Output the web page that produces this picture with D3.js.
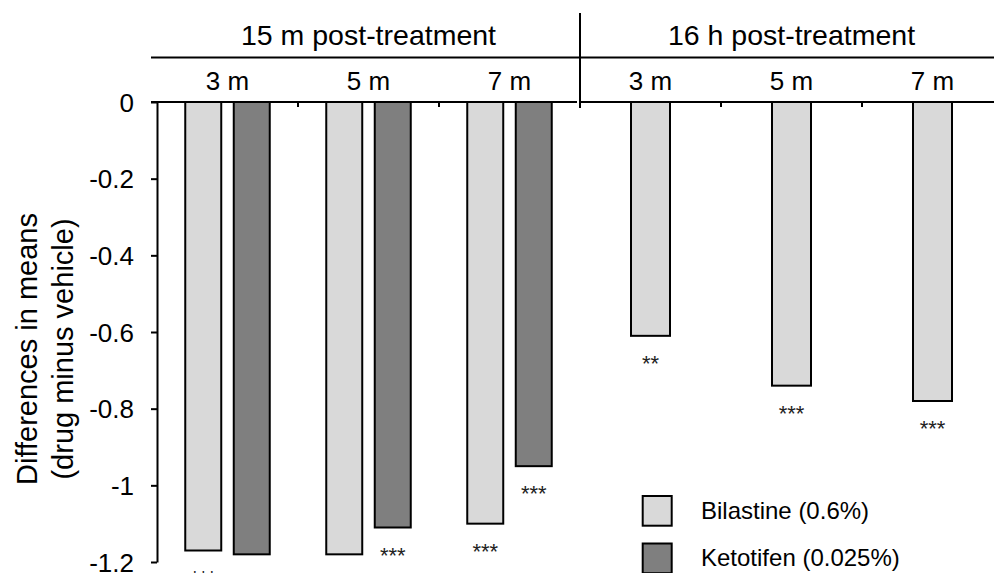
<!DOCTYPE html>
<html><head><meta charset="utf-8">
<script src="https://cdn.jsdelivr.net/npm/d3@7"></script>
<style>
body{margin:0;background:#fff;}
svg{display:block;font-family:"Liberation Sans",Arial,sans-serif;}
</style>
</head><body>
<svg id="c" width="994" height="573"></svg>
<script>
// ---- data ----
const periods = ["15 m post-treatment", "16 h post-treatment"];
const times = ["3 m", "5 m", "7 m"];
const seriesNames = ["Bilastine (0.6%)", "Ketotifen (0.025%)"];
const bilastine15m = [-1.17, -1.18, -1.10];
const ketotifen15m = [-1.18, -1.11, -0.95];
const bilastine16h = [-0.61, -0.74, -0.78];
const stars15mBil = ["***", "***", "***"];
const stars15mKet = ["***", "***", "***"];
const stars16hBil = ["**", "***", "***"];
const yTicks = [0, -0.2, -0.4, -0.6, -0.8, -1, -1.2];
const yTitle = ["Differences in means", "(drug minus vehicle)"];

const colors = {"Bilastine (0.6%)": "#d9d9d9", "Ketotifen (0.025%)": "#7f7f7f"};

// build records
const cats = [];
periods.forEach(p => times.forEach(t => cats.push(p + "|" + t)));
const bars = [];
times.forEach((t, i) => {
  bars.push({cat: periods[0] + "|" + t, period: 0, series: seriesNames[0], v: bilastine15m[i], star: stars15mBil[i]});
  bars.push({cat: periods[0] + "|" + t, period: 0, series: seriesNames[1], v: ketotifen15m[i], star: stars15mKet[i]});
  bars.push({cat: periods[1] + "|" + t, period: 1, series: seriesNames[0], v: bilastine16h[i], star: stars16hBil[i]});
});

const svg = d3.select("#c");
const left = 157, right = 1003, top0 = 102, bot = 562;

const y = d3.scaleLinear().domain([0, -1.2]).range([top0, bot]);
const xCat = d3.scaleBand().domain(cats).range([left, right]);
const xPer = d3.scaleBand().domain(periods).range([left, right]);
const xPair = d3.scaleBand().domain(seriesNames).range([-42.25, 42.25]).paddingInner(0.258).paddingOuter(0);
const xSingle = d3.scaleBand().domain([seriesNames[0]]).range([-19.5, 19.5]);

function barX(d) {
  const c = xCat(d.cat) + xCat.bandwidth() / 2;
  return d.period === 0 ? c + xPair(d.series) : c + xSingle(d.series);
}
function barW(d) { return d.period === 0 ? xPair.bandwidth() : xSingle.bandwidth(); }

// bars
svg.append("g").selectAll("rect").data(bars).join("rect")
  .attr("x", barX)
  .attr("y", y(0))
  .attr("width", barW)
  .attr("height", d => y(d.v) - y(0))
  .attr("fill", d => colors[d.series])
  .attr("stroke", "#000")
  .attr("stroke-width", 2);

// significance stars
svg.append("g").selectAll("text").data(bars).join("text")
  .attr("x", d => barX(d) + barW(d) / 2)
  .attr("y", d => y(d.v) + 35)
  .attr("text-anchor", "middle")
  .attr("font-size", 22)
  .attr("fill", "#222")
  .text(d => d.star);

// y axis
const yAxis = d3.axisLeft(y).tickValues(yTicks).tickSize(6).tickSizeOuter(0).tickFormat(d => String(d));
const gy = svg.append("g").attr("transform", `translate(${left},0)`).call(yAxis);
gy.select(".domain").attr("stroke-width", 2);
gy.selectAll(".tick line").attr("stroke-width", 2);
gy.selectAll(".tick text")
  .attr("font-size", 26)
  .attr("fill", "#000")
  .attr("font-family", "Liberation Sans, Arial, sans-serif")
  .attr("x", -23)
  .attr("dy", "0.35em");

// zero baseline segments
svg.append("line").attr("x1", left - 6).attr("x2", xPer(periods[1]) - 3)
  .attr("y1", y(0)).attr("y2", y(0)).attr("stroke", "#000").attr("stroke-width", 2);
svg.append("line").attr("x1", xPer(periods[1])).attr("x2", 994)
  .attr("y1", y(0)).attr("y2", y(0)).attr("stroke", "#000").attr("stroke-width", 2);

// category boundary ticks
const bounds = cats.slice(1).map(c => xCat(c)).filter(v => Math.abs(v - xPer(periods[1])) > 1);
svg.append("g").selectAll("line").data(bounds).join("line")
  .attr("x1", d => d).attr("x2", d => d)
  .attr("y1", y(0)).attr("y2", y(0) + 5)
  .attr("stroke", "#000").attr("stroke-width", 2);

// separator & header line
svg.append("line").attr("x1", xPer(periods[1])).attr("x2", xPer(periods[1]))
  .attr("y1", 13).attr("y2", 108).attr("stroke", "#000").attr("stroke-width", 2);
svg.append("line").attr("x1", left - 6).attr("x2", 994)
  .attr("y1", 57.5).attr("y2", 57.5).attr("stroke", "#000").attr("stroke-width", 2);

// period headers
svg.append("g").selectAll("text").data(periods).join("text")
  .attr("x", d => xPer(d) + xPer.bandwidth() / 2)
  .attr("y", 45)
  .attr("text-anchor", "middle")
  .attr("font-size", 28.5)
  .text(d => d);

// time labels
svg.append("g").selectAll("text").data(cats).join("text")
  .attr("x", d => xCat(d) + xCat.bandwidth() / 2)
  .attr("y", 90)
  .attr("text-anchor", "middle")
  .attr("font-size", 26)
  .text(d => d.split("|")[1]);

// y title
svg.append("g").selectAll("text").data(yTitle).join("text")
  .attr("transform", (d, i) => `translate(${37 + i * 36},349) rotate(-90)`)
  .attr("text-anchor", "middle")
  .attr("font-size", 29)
  .text(d => d);

// legend
const lg = svg.append("g").selectAll("g").data(seriesNames).join("g")
  .attr("transform", (d, i) => `translate(642.7,${496 + i * 47.5})`);
lg.append("rect").attr("width", 29).attr("height", 29.7)
  .attr("fill", d => colors[d]).attr("stroke", "#000").attr("stroke-width", 2);
lg.append("text").attr("x", 58.3).attr("y", 22.5).attr("font-size", 24).text(d => d);
</script>
</body></html>
